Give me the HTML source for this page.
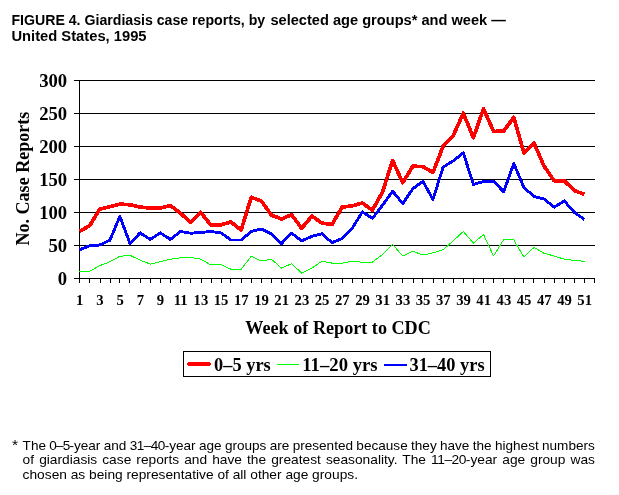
<!DOCTYPE html>
<html lang="en"><head><meta charset="utf-8"><title>FIGURE 4. Giardiasis case reports</title>
<style>
html,body{margin:0;padding:0;background:#fff;}
body{width:619px;height:495px;position:relative;overflow:hidden;font-family:"Liberation Sans",Arial,sans-serif;color:#000;}
.fl{position:absolute;font-size:12.9px;line-height:14px;white-space:nowrap;transform-origin:0 0;}
svg{position:absolute;left:0;top:0;}
svg text{font-family:"Liberation Serif","Times New Roman",serif;font-weight:bold;}
svg text.sans{font-family:"Liberation Sans",Arial,sans-serif;}
</style></head><body>
<svg width="619" height="495" viewBox="0 0 619 495">
<text class="sans"><tspan id="t1" class="sans" font-size="14.5px" x="11.43" y="25.0" textLength="253.75" lengthAdjust="spacingAndGlyphs">FIGURE 4. Giardiasis case reports, by</tspan> <tspan id="t1b" class="sans" font-size="14.5px" x="270.41" y="25.0" textLength="235.50" lengthAdjust="spacingAndGlyphs">selected age groups* and week —</tspan> <tspan id="t2" class="sans" font-size="14.5px" x="11.41" y="41.0" textLength="135.15" lengthAdjust="spacingAndGlyphs">United States, 1995</tspan></text>
<g fill="#000" shape-rendering="crispEdges"><rect x="74" y="80" width="521" height="1"/><rect x="74" y="113" width="521" height="1"/><rect x="74" y="146" width="521" height="1"/><rect x="74" y="179" width="521" height="1"/><rect x="74" y="212" width="521" height="1"/><rect x="74" y="245" width="521" height="1"/><rect x="74" y="278" width="521" height="1"/><rect x="79" y="80" width="1" height="203"/><rect x="79" y="278" width="1" height="5"/><rect x="89" y="278" width="1" height="5"/><rect x="100" y="278" width="1" height="5"/><rect x="110" y="278" width="1" height="5"/><rect x="119" y="278" width="1" height="5"/><rect x="129" y="278" width="1" height="5"/><rect x="140" y="278" width="1" height="5"/><rect x="150" y="278" width="1" height="5"/><rect x="160" y="278" width="1" height="5"/><rect x="170" y="278" width="1" height="5"/><rect x="180" y="278" width="1" height="5"/><rect x="190" y="278" width="1" height="5"/><rect x="201" y="278" width="1" height="5"/><rect x="211" y="278" width="1" height="5"/><rect x="221" y="278" width="1" height="5"/><rect x="230" y="278" width="1" height="5"/><rect x="241" y="278" width="1" height="5"/><rect x="251" y="278" width="1" height="5"/><rect x="261" y="278" width="1" height="5"/><rect x="271" y="278" width="1" height="5"/><rect x="281" y="278" width="1" height="5"/><rect x="291" y="278" width="1" height="5"/><rect x="301" y="278" width="1" height="5"/><rect x="312" y="278" width="1" height="5"/><rect x="321" y="278" width="1" height="5"/><rect x="331" y="278" width="1" height="5"/><rect x="342" y="278" width="1" height="5"/><rect x="352" y="278" width="1" height="5"/><rect x="362" y="278" width="1" height="5"/><rect x="372" y="278" width="1" height="5"/><rect x="382" y="278" width="1" height="5"/><rect x="392" y="278" width="1" height="5"/><rect x="402" y="278" width="1" height="5"/><rect x="413" y="278" width="1" height="5"/><rect x="422" y="278" width="1" height="5"/><rect x="433" y="278" width="1" height="5"/><rect x="443" y="278" width="1" height="5"/><rect x="453" y="278" width="1" height="5"/><rect x="463" y="278" width="1" height="5"/><rect x="473" y="278" width="1" height="5"/><rect x="483" y="278" width="1" height="5"/><rect x="493" y="278" width="1" height="5"/><rect x="503" y="278" width="1" height="5"/><rect x="514" y="278" width="1" height="5"/><rect x="523" y="278" width="1" height="5"/><rect x="533" y="278" width="1" height="5"/><rect x="544" y="278" width="1" height="5"/><rect x="554" y="278" width="1" height="5"/><rect x="564" y="278" width="1" height="5"/><rect x="574" y="278" width="1" height="5"/><rect x="584" y="278" width="1" height="5"/><rect x="594" y="278" width="1" height="5"/></g>
<g fill="none" shape-rendering="crispEdges" stroke-linejoin="round" stroke-linecap="butt">
<polyline stroke="#00ff00" stroke-width="1" stroke-linecap="square" points="79.5,271.4 89.6,271.4 99.7,265.7 109.8,261.8 119.9,256.3 130.0,255.3 140.1,260.1 150.2,264.1 160.3,261.8 170.4,259.2 180.5,257.8 190.6,257.4 200.7,259.2 210.8,264.9 220.9,264.3 231.0,269.3 241.1,269.3 251.2,256.3 261.3,260.9 271.4,259.2 281.5,268.1 291.6,263.6 301.7,273.2 311.8,268.1 321.9,261.3 332.0,263.1 342.1,263.1 352.2,261.3 362.3,262.2 372.4,262.2 382.5,254.6 392.6,244.4 402.7,256.0 412.8,251.2 422.9,255.1 433.0,252.8 443.1,249.8 453.2,240.9 463.3,231.5 473.4,243.2 483.5,234.5 493.6,256.0 503.7,239.6 513.8,240.0 523.9,256.9 534.0,247.4 544.1,253.3 554.2,256.0 564.3,259.2 574.4,260.4 584.5,261.3"/>
<polyline stroke="#0000ff" stroke-width="2.9" points="79.5,249.8 89.6,245.7 99.7,245.0 109.8,240.3 119.9,216.5 130.0,243.5 140.1,232.9 150.2,239.4 160.3,232.9 170.4,239.4 180.5,231.5 190.6,233.2 200.7,232.5 210.8,231.5 220.9,232.9 231.0,240.0 241.1,240.0 251.2,231.5 261.3,229.0 271.4,233.8 281.5,243.5 291.6,233.2 301.7,240.9 311.8,236.4 321.9,233.8 332.0,242.6 342.1,238.6 352.2,228.4 362.3,211.9 372.4,218.3 382.5,205.3 392.6,191.1 402.7,203.6 412.8,188.8 422.9,181.3 433.0,199.5 443.1,167.1 453.2,160.9 463.3,152.9 473.4,184.3 483.5,181.7 493.6,181.3 503.7,191.8 513.8,163.5 523.9,187.5 534.0,196.4 544.1,199.1 554.2,207.1 564.3,200.9 574.4,212.4 584.5,219.5"/>
<polyline stroke="#ff0000" stroke-width="3.7" points="79.5,231.3 89.6,225.8 99.7,209.2 109.8,206.7 119.9,204.1 130.0,204.8 140.1,207.1 150.2,208.0 160.3,208.0 170.4,205.5 180.5,213.3 190.6,222.2 200.7,212.4 210.8,224.9 220.9,224.9 231.0,221.9 241.1,230.2 251.2,197.3 261.3,200.9 271.4,215.1 281.5,219.0 291.6,214.7 301.7,228.4 311.8,216.0 321.9,223.1 332.0,224.5 342.1,207.1 352.2,205.9 362.3,203.0 372.4,210.1 382.5,192.0 392.6,160.5 402.7,182.8 412.8,166.2 422.9,166.6 433.0,172.4 443.1,146.3 453.2,135.6 463.3,113.2 473.4,137.8 483.5,108.7 493.6,131.5 503.7,131.0 513.8,117.3 523.9,152.9 534.0,143.1 544.1,166.2 554.2,180.8 564.3,180.8 574.4,190.6 584.5,194.3"/>
</g>
<g font-size="17.9px"><text x="39.20" y="87.2" textLength="28.01" lengthAdjust="spacingAndGlyphs">300</text><text x="39.20" y="120.2" textLength="28.01" lengthAdjust="spacingAndGlyphs">250</text><text x="39.20" y="153.2" textLength="28.01" lengthAdjust="spacingAndGlyphs">200</text><text x="39.20" y="186.2" textLength="28.01" lengthAdjust="spacingAndGlyphs">150</text><text x="39.20" y="219.2" textLength="28.01" lengthAdjust="spacingAndGlyphs">100</text><text x="48.53" y="252.2" textLength="18.67" lengthAdjust="spacingAndGlyphs">50</text><text x="57.87" y="285.2" textLength="9.34" lengthAdjust="spacingAndGlyphs">0</text></g>
<g font-size="14.67px"><text x="79.7" y="304.9" text-anchor="middle">1</text><text x="99.9" y="304.9" text-anchor="middle">3</text><text x="120.1" y="304.9" text-anchor="middle">5</text><text x="140.3" y="304.9" text-anchor="middle">7</text><text x="160.5" y="304.9" text-anchor="middle">9</text><text x="180.7" y="304.9" text-anchor="middle">11</text><text x="200.9" y="304.9" text-anchor="middle">13</text><text x="221.1" y="304.9" text-anchor="middle">15</text><text x="241.3" y="304.9" text-anchor="middle">17</text><text x="261.5" y="304.9" text-anchor="middle">19</text><text x="281.7" y="304.9" text-anchor="middle">21</text><text x="301.9" y="304.9" text-anchor="middle">23</text><text x="322.1" y="304.9" text-anchor="middle">25</text><text x="342.3" y="304.9" text-anchor="middle">27</text><text x="362.5" y="304.9" text-anchor="middle">29</text><text x="382.7" y="304.9" text-anchor="middle">31</text><text x="402.9" y="304.9" text-anchor="middle">33</text><text x="423.1" y="304.9" text-anchor="middle">35</text><text x="443.3" y="304.9" text-anchor="middle">37</text><text x="463.5" y="304.9" text-anchor="middle">39</text><text x="483.7" y="304.9" text-anchor="middle">41</text><text x="503.9" y="304.9" text-anchor="middle">43</text><text x="524.1" y="304.9" text-anchor="middle">45</text><text x="544.3" y="304.9" text-anchor="middle">47</text><text x="564.5" y="304.9" text-anchor="middle">49</text><text x="584.7" y="304.9" text-anchor="middle">51</text></g>
<text id="yt" class="serif" font-size="17.9px" transform="translate(28.6,178.63) rotate(-90)" text-anchor="middle" textLength="133.68" lengthAdjust="spacingAndGlyphs">No. Case Reports</text>
<text id="xt" class="serif" font-size="17.9px" x="245.38" y="333.8" textLength="185.44" lengthAdjust="spacingAndGlyphs">Week of Report to CDC</text>
<g shape-rendering="crispEdges"><rect x="183.5" y="351.5" width="307" height="25" fill="#fff" stroke="#000" stroke-width="1"/>
<rect x="188" y="362" width="22" height="4" fill="#ff0000"/><rect x="187" y="363" width="24" height="2" fill="#ff0000"/>
<rect x="277" y="364" width="22" height="1" fill="#00ff00"/>
<rect x="384" y="364" width="23" height="2" fill="#0000ff"/></g>
<text id="l1" class="serif" font-size="17.9px" x="214.11" y="370.7" textLength="56.57" lengthAdjust="spacingAndGlyphs">0–5 yrs</text><text id="l2" class="serif" font-size="17.9px" x="302.28" y="370.7" textLength="75.31" lengthAdjust="spacingAndGlyphs">11–20 yrs</text><text id="l3" class="serif" font-size="17.9px" x="409.46" y="370.7" textLength="75.16" lengthAdjust="spacingAndGlyphs">31–40 yrs</text>
</svg>
<div class="fl" style="left:0;top:0;transform:translate(11.9px,438.0px);font-size:15.5px;">* </div><div class="fl" id="f1" style="left:0;top:0;transform:translate(22.60px,438.9px) scaleX(1.0532);word-spacing:-0.434px;">The <span style="letter-spacing:-0.8px">0–5</span>-year and <span style="letter-spacing:-0.52px">31–40</span>-year age groups are presented because they have the highest numbers </div><div class="fl" id="f2" style="left:0;top:0;transform:translate(22.60px,453.3px) scaleX(1.0660);word-spacing:1.176px;">of giardiasis case reports and have the greatest seasonality. The <span style="letter-spacing:-0.45px">11–20</span>-year age group was </div><div class="fl" id="f3" style="left:0;top:0;transform:translate(22.60px,467.8px) scaleX(1.0660);word-spacing:0.000px;">chosen as being representative of all other age groups.</div>
</body></html>
